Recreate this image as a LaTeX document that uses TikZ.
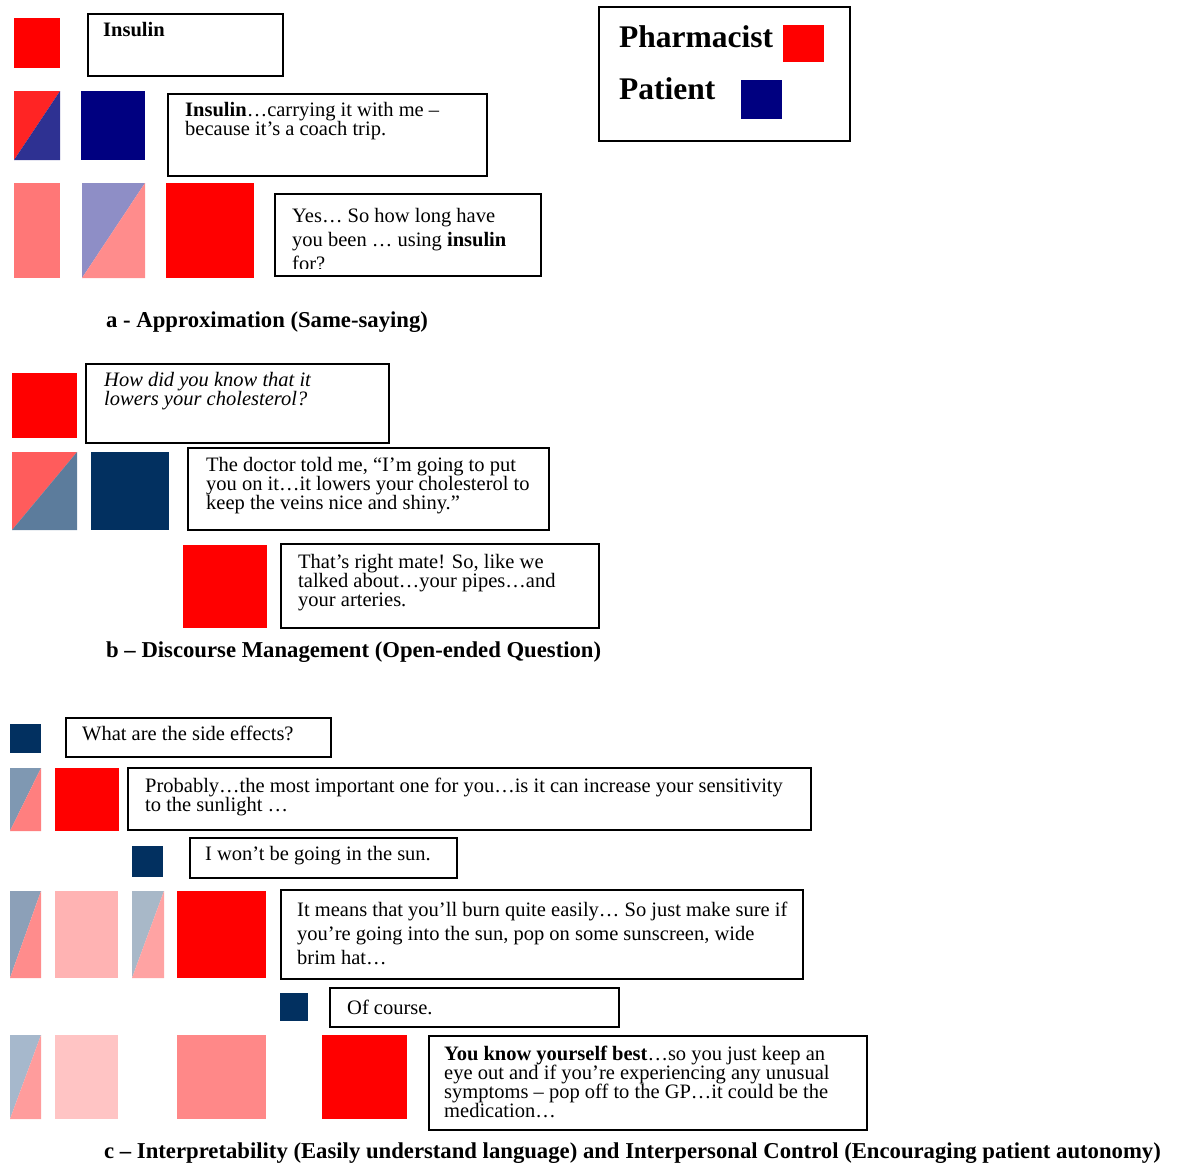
\documentclass[tikz,border=0pt]{standalone}
\usepackage{fontspec}
\setmainfont{Liberation Serif}
\definecolor{pred}{HTML}{FF0000}
\definecolor{navyA}{HTML}{000080}
\definecolor{navyB}{HTML}{023060}
\definecolor{sAr}{HTML}{FF2424}
\definecolor{sAb}{HTML}{2E3192}
\definecolor{salA}{HTML}{FF7777}
\definecolor{sA2b}{HTML}{8E8EC6}
\definecolor{sA2r}{HTML}{FF8C8C}
\definecolor{sBr}{HTML}{FF5C5C}
\definecolor{sBb}{HTML}{5C7C9C}
\definecolor{sC1b}{HTML}{7F98B2}
\definecolor{sC1r}{HTML}{FF7F7F}
\definecolor{sC2b}{HTML}{8CA0B8}
\definecolor{sC2r}{HTML}{FF8C8C}
\definecolor{pinkC}{HTML}{FFB3B3}
\definecolor{sC3b}{HTML}{A8B8C8}
\definecolor{sC3r}{HTML}{FFA3A3}
\definecolor{sC4b}{HTML}{A6B8CC}
\definecolor{sC4r}{HTML}{FF9C9C}
\definecolor{pinkC2}{HTML}{FFC4C4}
\definecolor{salC}{HTML}{FF8888}
\newcommand\splitbox[6]{%
  \fill[#5] (#1,#2) -- (#3,#2) -- (#1,#4) -- cycle;
  \fill[#6] (#1,#4) -- (#3,#2) -- (#3,#4) -- cycle;}
\begin{document}
\begin{tikzpicture}[x=1pt,y=-1pt,
  tbox/.style={draw=black, line width=1.4pt},
  txt/.style={inner sep=0pt, anchor=north west, align=left, font=\fontsize{20.5}{19}\selectfont},
  txtw/.style={txt, font=\fontsize{20.5}{24}\selectfont},
  capt/.style={inner sep=0pt, anchor=west, font=\bfseries\fontsize{22.7}{24}\selectfont},
  leg/.style={inner sep=0pt, anchor=west, font=\bfseries\fontsize{31.5}{32}\selectfont}]
\useasboundingbox (0,0) rectangle (1183,1164);

% ---------- Legend ----------
\draw[line width=2.5pt] (599,7) rectangle (850,141);
\node[leg] (lpharm) at (619,37) {Pharmacist};
\node[leg] (lpat) at (619,89) {Patient};
\fill[pred] (783,25) rectangle (824,62);
\fill[navyA] (741,80) rectangle (782,119);

% ---------- Section a ----------
\fill[pred] (14,18) rectangle (60,68);
\draw[tbox] (88,14) rectangle (283,76);
\node[txt] (a1) at (103,22) {\textbf{Insulin}};

\splitbox{14}{91}{60}{160}{sAr}{sAb}
\fill[navyA] (81,91) rectangle (145,160);
\draw[tbox] (168,94) rectangle (487,176);
\node[txt] (a2) at (185,102) {\textbf{Insulin}…carrying it with me –\\because it’s a coach trip.};

\fill[salA] (14,183) rectangle (60,278);
\splitbox{82}{183}{145}{278}{sA2b}{sA2r}
\fill[pred] (166,183) rectangle (254,278);
\draw[tbox] (275,194) rectangle (541,276);
\begin{scope}
  \clip (276,195) rectangle (540,268);
  \node[txtw] (a3) at (292,208) {Yes… So how long have\\you been … using \textbf{insulin}\\for?};
\end{scope}
\node[capt] (capa) at (106,322) {a - Approximation (Same-saying)};

% ---------- Section b ----------
\fill[pred] (12,373) rectangle (77,438);
\draw[tbox] (86,364) rectangle (389,443);
\node[txt, font=\itshape\fontsize{20.5}{19}\selectfont] (b1) at (104,372) {How did you know that it\\lowers your cholesterol?};

\splitbox{12}{452}{77}{530}{sBr}{sBb}
\fill[navyB] (91,452) rectangle (169,530);
\draw[tbox] (188,448) rectangle (549,530);
\node[txt] (b2) at (206,457) {The doctor told me, “I’m going to put\\you on it…it lowers your cholesterol to\\keep the veins nice and shiny.”};

\fill[pred] (183,545) rectangle (267,628);
\draw[tbox] (281,544) rectangle (599,628);
\node[txt] (b3) at (298,554) {That’s right mate! So, like we\\talked about…your pipes…and\\your arteries.};
\node[capt] (capb) at (106,652) {b – Discourse Management (Open-ended Question)};

% ---------- Section c ----------
\fill[navyB] (10,724) rectangle (41,753);
\draw[tbox] (66,718) rectangle (331,757);
\node[txt] (c1) at (82,726) {What are the side effects?};

\splitbox{10}{768}{41}{831}{sC1b}{sC1r}
\fill[pred] (55,768) rectangle (119,831);
\draw[tbox] (128,768) rectangle (811,830);
\node[txt] (c2) at (145,778) {Probably…the most important one for you…is it can increase your sensitivity\\to the sunlight …};

\fill[navyB] (132,846) rectangle (163,877);
\draw[tbox] (190,838) rectangle (457,878);
\node[txt] (c3) at (205,846) {I won’t be going in the sun.};

\splitbox{10}{891}{41}{978}{sC2b}{sC2r}
\fill[pinkC] (55,891) rectangle (118,978);
\splitbox{132}{891}{164}{978}{sC3b}{sC3r}
\fill[pred] (177,891) rectangle (266,978);
\draw[tbox] (281,890) rectangle (803,979);
\node[txtw] (c4) at (297,902) {It means that you’ll burn quite easily… So just make sure if\\you’re going into the sun, pop on some sunscreen, wide\\brim hat…};

\fill[navyB] (280,993) rectangle (308,1021);
\draw[tbox] (330,988) rectangle (619,1027);
\node[txt] (c5) at (347,1000) {Of course.};

\splitbox{10}{1035}{41}{1119}{sC4b}{sC4r}
\fill[pinkC2] (55,1035) rectangle (118,1119);
\fill[salC] (177,1035) rectangle (266,1119);
\fill[pred] (322,1035) rectangle (407,1119);
\draw[tbox] (429,1036) rectangle (867,1130);
\node[txt] (c6) at (444,1046) {\textbf{You know yourself best}…so you just keep an\\eye out and if you’re experiencing any unusual\\symptoms – pop off to the GP…it could be the\\medication…};
\node[capt] (capc) at (104,1153) {c – Interpretability (Easily understand language) and Interpersonal Control (Encouraging patient autonomy)};
\end{tikzpicture}
\end{document}
